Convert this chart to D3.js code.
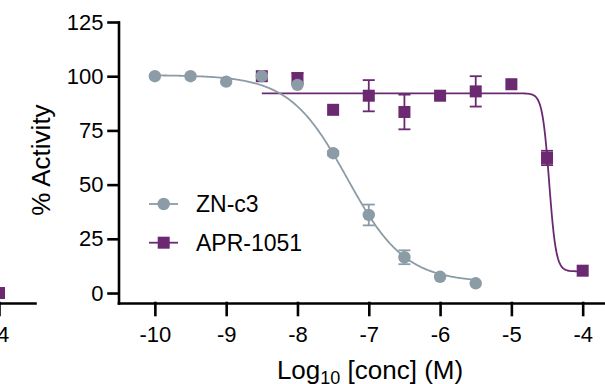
<!DOCTYPE html>
<html lang="en">
<head>
  <meta charset="UTF-8">
  <script src="https://d3js.org/d3.v7.min.js"></script>
  <title>% Activity vs Log10 [conc]</title>
  <style>
    body { margin: 0; background: #fff; }
    svg { display: block; font-family: "Liberation Sans", Arial, sans-serif; }
    .axis path, .axis line { stroke: #000; stroke-width: 2.6; stroke-linecap: square; }
    .axis text { font-size: 22px; fill: #000; }
  </style>
</head>
<body>
<div id="chart"></div>
<script>
// values
const xTicks = [-10, -9, -8, -7, -6, -5, -4];
const yTicks = [0, 25, 50, 75, 100, 125];

const znConc = [-10, -9.5, -9, -8.5, -8, -7.5, -7, -6.5, -6, -5.5];
const znAct  = [100, 100, 97.5, 100, 96, 64.5, 36, 16.5, 7.5, 4.5];
const znErr  = [0, 0, 0, 0, 0, 1, 4.8, 3.2, 0, 0];
// four-parameter fit: top, bottom, logIC50, hill
const znFit  = [100.5, 5, -7.3, 1.07];

const aprConc = [-8.5, -8, -7.5, -7, -6.5, -6, -5.5, -5, -4.5, -4];
const aprAct  = [100, 99, 84.5, 91, 83.5, 91, 93, 96.3, 62.3, 10.3];
const aprErr  = [0, 2.5, 0, 7.2, 8, 0, 7, 0, 3.3, 0];
const aprFit  = [92.1, 10, -4.47, 9];

// the edge of the panel on the left
const prevConc = [-4];
const prevAct  = [0];

const grey = "#8b9ca7", purple = "#6b2972";

const W = 605, H = 384;
const svg = d3.select("#chart").append("svg").attr("width", W).attr("height", H);

const x = d3.scaleLinear().domain([-10.51, -3.687]).range([118.5, 605]);
const y = d3.scaleLinear().domain([-4.6, 125]).range([303, 22]);
// previous panel, same scale shifted off screen
const xPrev = d3.scaleLinear().domain([-4.0, -3.49]).range([-1, 35]);

const fmt = d => String(d);

// left panel stub
svg.append("g").attr("class", "axis").attr("transform", "translate(0,303)")
  .call(d3.axisBottom(xPrev).tickValues([-4]).tickSize(12).tickSizeOuter(0).tickPadding(11).tickFormat(fmt));
svg.selectAll(".prev").data(prevConc).enter().append("rect")
  .attr("x", d => xPrev(d) - 6).attr("y", (d, i) => y(prevAct[i]) - 6)
  .attr("width", 12).attr("height", 12).attr("fill", purple);

// axes
svg.append("g").attr("class", "axis").attr("transform", "translate(118.5,0)")
  .call(d3.axisLeft(y).tickValues(yTicks).tickSize(10).tickPadding(5).tickSizeOuter(0));
svg.append("g").attr("class", "axis").attr("transform", "translate(0,303)")
  .call(d3.axisBottom(x).tickValues(xTicks).tickSize(12).tickPadding(11).tickSizeOuter(0).tickFormat(fmt));

// axis titles
svg.append("text")
  .attr("transform", "translate(50,160) rotate(-90)")
  .attr("text-anchor", "middle").attr("font-size", 26).text("% Activity");

const xt = svg.append("text").attr("x", 370).attr("y", 379)
  .attr("text-anchor", "middle").attr("font-size", 26);
xt.append("tspan").text("Log");
xt.append("tspan").attr("font-size", 18).attr("dy", 5).text("10");
xt.append("tspan").attr("dy", -5).text(" [conc] (M)");

function fitCurve(p, from, to) {
  const [top, bottom, ic, h] = p;
  const f = c => bottom + (top - bottom) / (1 + Math.pow(10, (c - ic) * h));
  const pts = d3.range(from, to + 1e-9, (to - from) / 300).map(c => [c, f(c)]);
  return d3.line().x(d => x(d[0])).y(d => y(d[1]))(pts);
}

function drawSeries(conc, act, err, fit, color, shape, range) {
  const g = svg.append("g");
  g.append("path").attr("d", fitCurve(fit, range[0], range[1]))
    .attr("fill", "none").attr("stroke", color).attr("stroke-width", 1.8);
  const rows = conc.map((c, i) => ({ c, v: act[i], e: err[i] })).filter(d => d.e > 0);
  rows.forEach(d => {
    const eg = g.append("g").attr("stroke", color).attr("stroke-width", 1.8);
    eg.append("line").attr("x1", x(d.c)).attr("x2", x(d.c)).attr("y1", y(d.v - d.e)).attr("y2", y(d.v + d.e));
    [d.v - d.e, d.v + d.e].forEach(v => {
      eg.append("line").attr("x1", x(d.c) - 6).attr("x2", x(d.c) + 6).attr("y1", y(v)).attr("y2", y(v));
    });
  });
  const pts = conc.map((c, i) => ({ c, v: act[i] }));
  if (shape === "circle") {
    g.selectAll("circle").data(pts).enter().append("circle")
      .attr("cx", d => x(d.c)).attr("cy", d => y(d.v)).attr("r", 6.2).attr("fill", color);
  } else {
    g.selectAll("rect").data(pts).enter().append("rect")
      .attr("x", d => x(d.c) - 6).attr("y", d => y(d.v) - 6)
      .attr("width", 12).attr("height", 12).attr("fill", color);
  }
}

drawSeries(aprConc, aprAct, aprErr, aprFit, purple, "square", [-8.5, -4]);
drawSeries(znConc, znAct, znErr, znFit, grey, "circle", [-10, -5.5]);

// legend
const legend = svg.append("g");
const items = [{ name: "ZN-c3", color: grey, shape: "circle" },
               { name: "APR-1051", color: purple, shape: "square" }];
items.forEach((it, i) => {
  const cy = 204 + i * 38.7;
  legend.append("line").attr("x1", 149).attr("x2", 178).attr("y1", cy).attr("y2", cy)
    .attr("stroke", it.color).attr("stroke-width", 1.8);
  if (it.shape === "circle") {
    legend.append("circle").attr("cx", 163.7).attr("cy", cy).attr("r", 6.2).attr("fill", it.color);
  } else {
    legend.append("rect").attr("x", 157.7).attr("y", cy - 6).attr("width", 12).attr("height", 12).attr("fill", it.color);
  }
  legend.append("text").attr("x", 196).attr("y", cy + 8).attr("font-size", 23).text(it.name);
});
</script>
</body>
</html>
